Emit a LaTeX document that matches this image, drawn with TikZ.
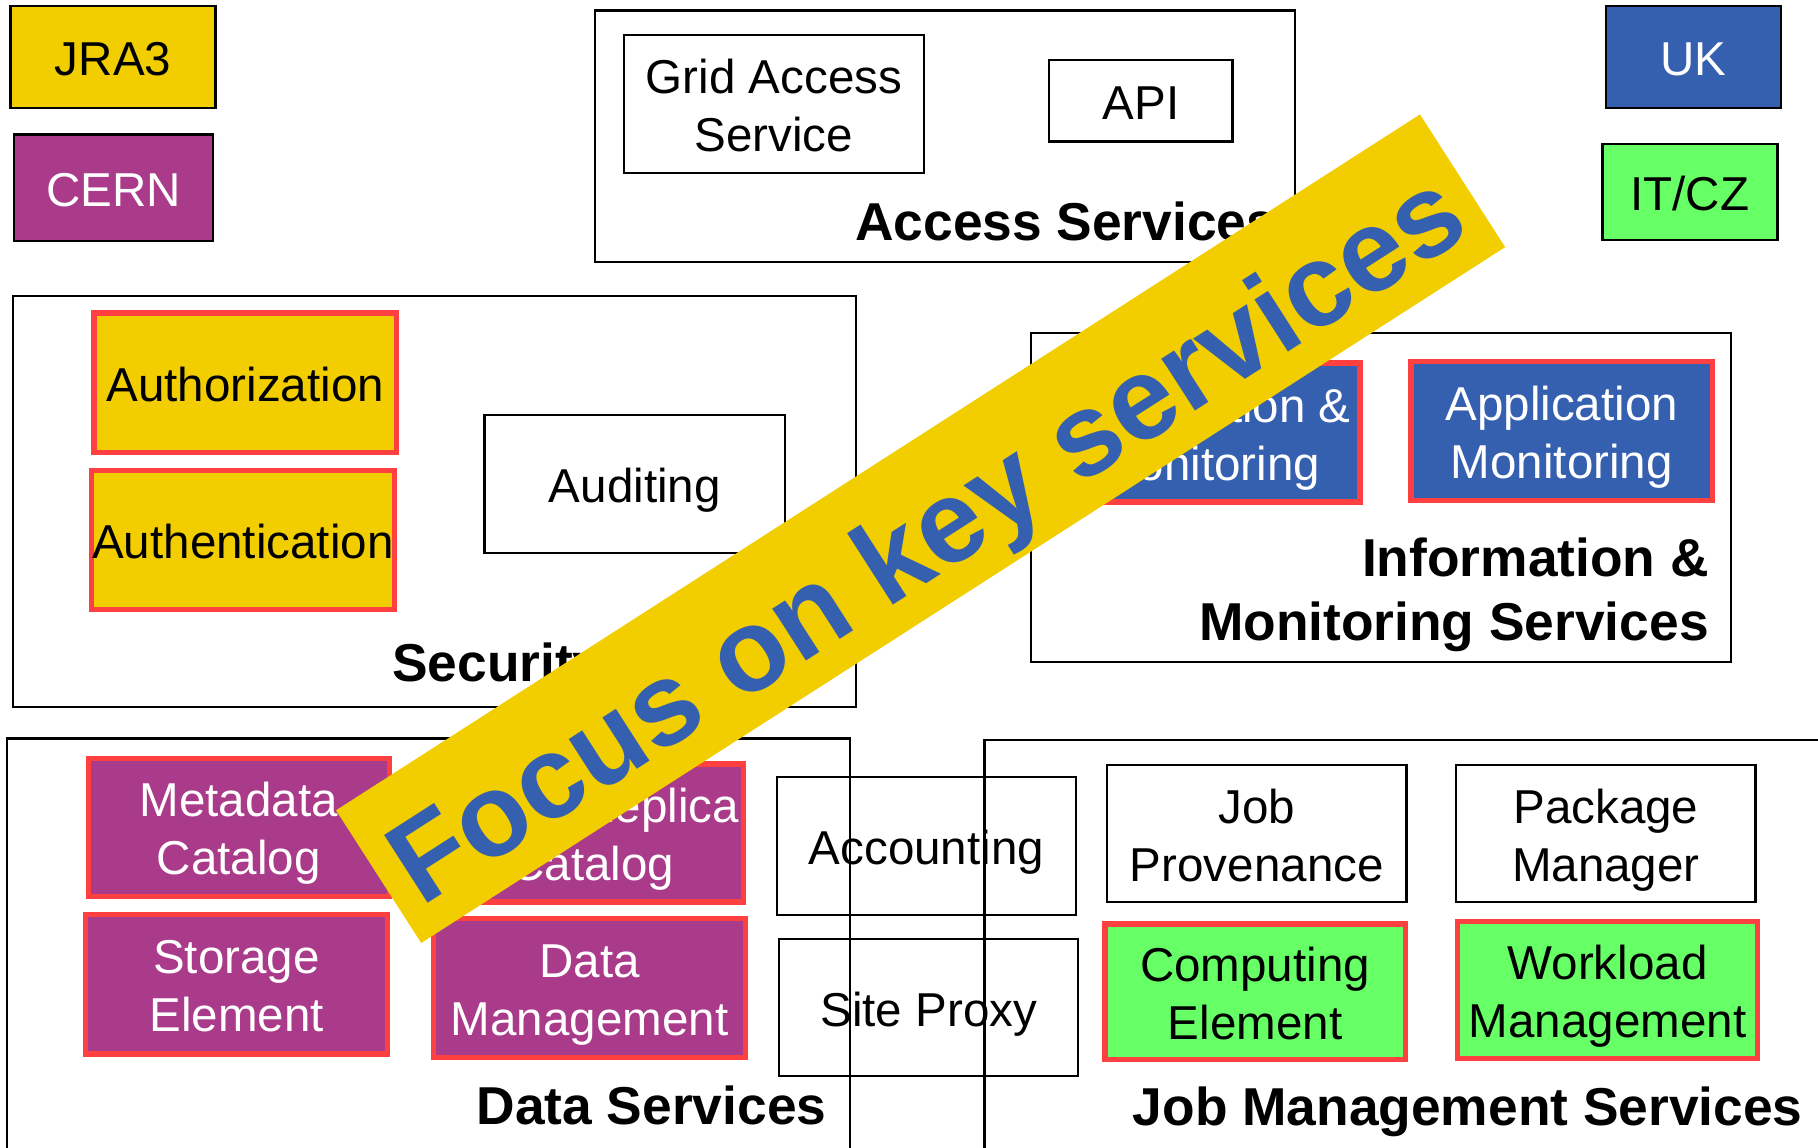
\documentclass[tikz,border=0pt]{standalone}
\usepackage{fontspec}
\setmainfont{Liberation Sans}
\definecolor{jyellow}{RGB}{242,206,0}
\definecolor{cpurple}{RGB}{170,58,138}
\definecolor{ukblue}{RGB}{53,96,176}
\definecolor{itgreen}{RGB}{102,255,102}
\definecolor{redB}{RGB}{255,64,64}
\newcommand\tx[1]{\raisebox{-6pt}[\height][\depth]{\begin{tabular}{@{}c@{}}#1\end{tabular}}}
\begin{document}
\begin{tikzpicture}[x=1pt,y=-1pt,
  box/.style={draw=black, line width=2pt, inner sep=0pt, align=center,
    font=\fontsize{41}{50}\selectfont, text=black},
  keybox/.style={box, draw=redB, line width=4.5pt},
  lab/.style={font=\fontsize{46}{55}\selectfont\bfseries, inner sep=0pt, align=right},
  cont/.style={draw=black, line width=2pt, inner sep=0pt}]
\useasboundingbox (0,0) rectangle (1568,990);
\clip (0,0) rectangle (1568,990);
\fill[white] (0,0) rectangle (1568,990);

% legend
\node (jra3) [box, fill=jyellow, minimum width=177pt, minimum height=88pt] at (97.5,49) {\tx{JRA3}};
\node (cern) [box, fill=cpurple, text=white, minimum width=172pt, minimum height=92pt] at (98,162) {\tx{CERN}};
\node (uk) [box, fill=ukblue, text=white, minimum width=151pt, minimum height=88pt] at (1460.5,49) {\tx{UK}};
\node (itcz) [box, fill=itgreen, minimum width=151pt, minimum height=83pt] at (1457.5,165.5) {\tx{IT/CZ}};

% containers
\node (access) [cont, minimum width=604pt, minimum height=217pt] at (815,117.5) {};
\node (security) [cont, minimum width=727pt, minimum height=355pt] at (374.5,432.5) {};
\node (info) [cont, minimum width=604pt, minimum height=284pt] at (1191,429) {};
\node (data) [cont, minimum width=727pt, minimum height=463pt] at (369.5,868.5) {};
\node (job) [cont, minimum width=851pt, minimum height=462pt] at (1274.5,869) {};

% access services
\node (gas) [box, minimum width=259pt, minimum height=119pt] at (667.5,89.5) {\tx{Grid Access\\Service}};
\node (api) [box, minimum width=158pt, minimum height=70pt] at (984,87) {\tx{API}};
\node (accesslab) [lab, anchor=base east] at (1101,207) {Access Services};

% security
\node (authz) [keybox, fill=jyellow, minimum width=261pt, minimum height=120pt] at (211.5,330) {\tx{Authorization}};
\node (authn) [keybox, fill=jyellow, minimum width=261pt, minimum height=120pt] at (209.5,466) {\tx{Authentication}};
\node (audit) [box, minimum width=259pt, minimum height=119pt] at (547.5,417.5) {\tx{Auditing}};
\node (seclab) [lab, anchor=base west] at (338,588) {Security Services};

% information & monitoring
\node (infmon) [keybox, fill=ukblue, text=white, minimum width=260pt, minimum height=120pt] at (1043,373) {\tx{Information \&\\Monitoring}};
\node (appmon) [keybox, fill=ukblue, text=white, minimum width=260pt, minimum height=120pt] at (1347,372) {\tx{Application\\Monitoring}};
\node (infolab) [lab, anchor=base east] at (1474,497) {Information \&};
\node (infolab2) [lab, anchor=base east] at (1474,552) {Monitoring Services};

% data services
\node (meta) [keybox, fill=cpurple, text=white, minimum width=260pt, minimum height=119pt] at (206,713.5) {\tx{Metadata\\Catalog}};
\node (replica) [keybox, fill=cpurple, text=white, minimum width=260pt, minimum height=119pt] at (511,718.5) {\tx{File \& Replica\\Catalog}};
\node (storage) [keybox, fill=cpurple, text=white, minimum width=260pt, minimum height=120pt] at (204,849) {\tx{Storage\\Element}};
\node (dm) [keybox, fill=cpurple, text=white, minimum width=269pt, minimum height=120pt] at (508.5,852) {\tx{Data\\Management}};
\node (datalab) [lab, anchor=base east] at (713,970) {Data Services};

% shared
\node (acct) [box, minimum width=258pt, minimum height=119pt] at (799,729.5) {\tx{Accounting}};
\node (proxy) [box, minimum width=258pt, minimum height=118pt] at (801,869) {\tx{Site Proxy}};

% job management
\node (jp) [box, minimum width=258pt, minimum height=118pt] at (1084,719) {\tx{Job\\Provenance}};
\node (pm) [box, minimum width=258pt, minimum height=118pt] at (1385,719) {\tx{Package\\Manager}};
\node (ce) [keybox, fill=itgreen, minimum width=259pt, minimum height=117pt] at (1082.5,855.5) {\tx{Computing\\Element}};
\node (wm) [keybox, fill=itgreen, minimum width=259pt, minimum height=118pt] at (1386.5,854) {\tx{Workload\\Management}};
\node (joblab) [lab, anchor=base east] at (1555,971) {Job Management Services};

% banner
\node (banner) [fill=jyellow, rotate=32.7, minimum width=1111pt, minimum height=136pt, inner sep=0pt] at (794,456) {};
\node (bannertext) [rotate=32.7, inner sep=0pt, text=ukblue, font=\fontsize{101}{110}\selectfont\bfseries]
  at (803,470) {Focus on key services};
\end{tikzpicture}
\end{document}
